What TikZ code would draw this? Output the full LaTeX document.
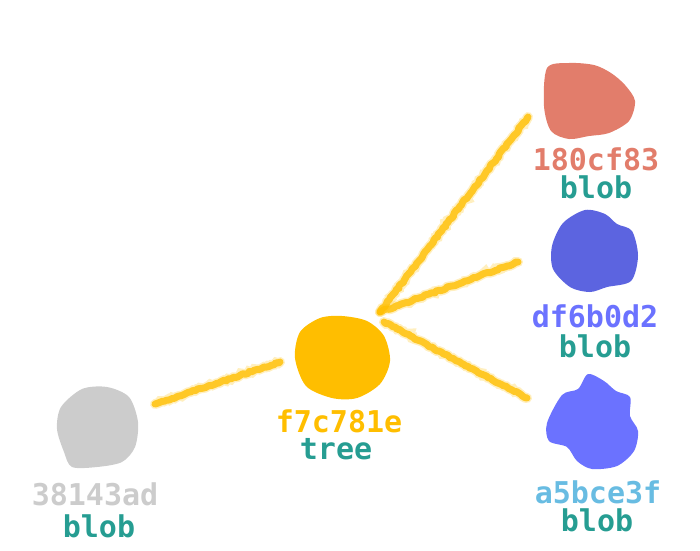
\documentclass[tikz,border=0pt]{standalone}
\usepackage{fontspec}
\setmonofont{DejaVu Sans Mono}
\usepackage{tikz}
\usetikzlibrary{positioning,calc,decorations.pathmorphing}
\definecolor{TreeYellow}{RGB}{255,190,0}
\definecolor{BlobGray}{RGB}{204,204,204}
\definecolor{BlobRed}{RGB}{226,125,107}
\definecolor{BlobNavy}{RGB}{92,100,224}
\definecolor{BlobBlue}{RGB}{107,114,255}
\definecolor{HashSky}{RGB}{104,188,226}
\definecolor{KindTeal}{RGB}{38,157,146}

\begin{document}
\begin{tikzpicture}[x=1pt, y=-1pt,
    % Style cho net ve phan vang
    chalk/.style={
        draw=TreeYellow, line width=7pt, line cap=round, line join=round,
        opacity=0.8, decorate,
        decoration={random steps, segment length=2.5pt, amplitude=0.8pt},
        preaction={draw=TreeYellow, line width=10pt, line cap=round,
            opacity=0.25, decorate,
            decoration={random steps, segment length=2pt, amplitude=1.2pt}}
    },
    % Style cho ma hash
    hashlabel/.style={
        font=\ttfamily\bfseries\fontsize{30}{32}\selectfont,
        inner sep=0pt
    },
    % Style cho loai doi tuong
    kindlabel/.style={
        font=\ttfamily\bfseries\fontsize{30}{32}\selectfont,
        text=KindTeal, inner sep=0pt
    }
]
    \useasboundingbox (0,0) rectangle (700,550);

    % --- 1. Cac blob mau ---
    \fill[BlobGray, shift={(97,427)}] plot[smooth cycle] coordinates
        {(-40,2) (-36,-20) (-15,-38) (10,-40) (32,-30) (41,-5) (38,20) (25,35) (0,40) (-25,40) (-33,25)};
    \fill[TreeYellow, shift={(342,356)}] plot[smooth cycle] coordinates
        {(-47,2) (-42,-24) (-22,-38) (0,-40) (25,-35) (42,-20) (48,5) (38,28) (15,42) (-10,42) (-36,30)};
    \fill[BlobRed, shift={(589,101)}] plot[smooth cycle] coordinates
        {(-45,5) (-42,-33) (-20,-38) (5,-36) (22,-28) (36,-16) (46,0) (40,20) (20,32) (0,35) (-20,38) (-38,30)};
    \fill[BlobNavy, shift={(595,251)}] plot[smooth cycle] coordinates
        {(-43,-5) (-32,-28) (-10,-41) (10,-37) (22,-27) (37,-20) (43,5) (36,30) (12,36) (-5,41) (-25,36) (-42,18)};
    \fill[BlobBlue, shift={(592,421)}] plot[smooth cycle] coordinates
        {(-45,2) (-30,-26) (-14,-32) (-4,-47) (12,-40) (24,-30) (38,-24) (38,-5) (46,10) (42,30) (25,45) (0,48) (-15,40) (-25,26) (-43,20)};

    % --- 2. Diem dau/cuoi cua cac net noi ---
    \coordinate (grayEnd) at (155,404);
    \coordinate (treeIn) at (280,362);
    \coordinate (fork) at (380,312);
    \coordinate (redEnd) at (528,117);
    \coordinate (navyEnd) at (518,262);
    \coordinate (blueEnd) at (527,398);
    \coordinate (forkLow) at (384,322);

    % --- 3. Cac net noi ---
    \draw[chalk] (grayEnd) -- (treeIn);
    \draw[chalk] (fork) -- (redEnd);
    \draw[chalk] (fork) -- (navyEnd);
    \draw[chalk] (forkLow) -- (blueEnd);

    % --- 4. Nhan ---
    \node[hashlabel, text=BlobGray] (hashGray) at (95,494) {38143ad};
    \node[kindlabel] (kindGray) at (99,526) {blob};
    \node[hashlabel, text=TreeYellow] (hashTree) at (339,421) {f7c781e};
    \node[kindlabel] (kindTree) at (336,449) {tree};
    \node[hashlabel, text=BlobRed] (hashRed) at (596,159) {180cf83};
    \node[kindlabel] (kindRed) at (596,187) {blob};
    \node[hashlabel, text=BlobBlue] (hashNavy) at (595,316) {df6b0d2};
    \node[kindlabel] (kindNavy) at (595,346) {blob};
    \node[hashlabel, text=HashSky] (hashBlue) at (598,492) {a5bce3f};
    \node[kindlabel] (kindBlue) at (597,520) {blob};
\end{tikzpicture}
\end{document}
